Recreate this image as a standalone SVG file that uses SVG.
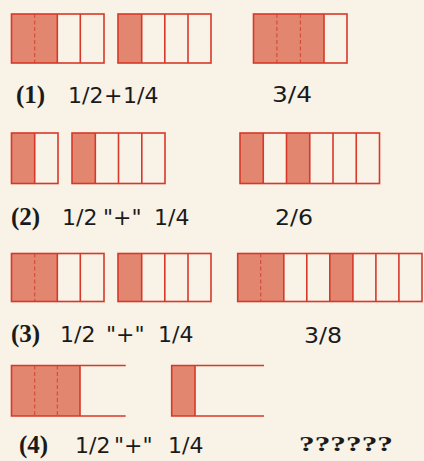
<svg xmlns="http://www.w3.org/2000/svg" width="424" height="461" viewBox="0 0 424 461">
<style>
.sh{fill:#e3866f;stroke:none}
.bx{fill:none;stroke:#d6382a;stroke-width:1.6}
.ln{stroke:#d6382a;stroke-width:1.6}
.ds{stroke:#d24a38;stroke-width:1.1;stroke-dasharray:4 2.5}
.lb{font-family:"Liberation Serif",serif;font-weight:bold;font-size:25px;fill:#1a1a1a}
.fr{font-family:"DejaVu Sans","Liberation Sans",sans-serif;font-size:22px;fill:#1a1a1a}
.q{font-family:"Liberation Serif",serif;font-weight:bold;font-size:22px;fill:#1a1a1a}
</style>
<rect width="424" height="461" fill="#f8f2e7"/>
<g id="row1">
<g id="r1a">
<rect class="sh" x="11.5" y="14" width="45.8" height="49"/>
<line class="ds" x1="34.7" y1="14" x2="34.7" y2="63"/>
<line class="ln" x1="57.3" y1="14" x2="57.3" y2="63"/>
<line class="ln" x1="80.3" y1="14" x2="80.3" y2="63"/>
<rect class="bx" x="11.5" y="14" width="92.5" height="49"/>
</g>
<g id="r1b">
<rect class="sh" x="118" y="14" width="23.7" height="49"/>
<line class="ln" x1="141.7" y1="14" x2="141.7" y2="63"/>
<line class="ln" x1="164.8" y1="14" x2="164.8" y2="63"/>
<line class="ln" x1="188" y1="14" x2="188" y2="63"/>
<rect class="bx" x="118" y="14" width="93" height="49"/>
</g>
<g id="r1c">
<rect class="sh" x="253.5" y="14" width="70.5" height="49"/>
<line class="ds" x1="276.9" y1="14" x2="276.9" y2="63"/>
<line class="ds" x1="300.4" y1="14" x2="300.4" y2="63"/>
<line class="ln" x1="324" y1="14" x2="324" y2="63"/>
<rect class="bx" x="253.5" y="14" width="93.5" height="49"/>
</g>
<text class="lb" x="16" y="103">(1)</text>
<text class="fr" y="103"><tspan x="68">1/2</tspan><tspan x="104">+</tspan><tspan x="123">1/4</tspan></text>
<text class="fr" x="272" y="102" textLength="40" lengthAdjust="spacingAndGlyphs">3/4</text>
</g>
<g id="row2">
<g id="r2a">
<rect class="sh" x="11.5" y="133" width="23.2" height="50.5"/>
<line class="ln" x1="34.7" y1="133" x2="34.7" y2="183.5"/>
<rect class="bx" x="11.5" y="133" width="46.5" height="50.5"/>
</g>
<g id="r2b">
<rect class="sh" x="72" y="133" width="23.3" height="50.5"/>
<line class="ln" x1="95.3" y1="133" x2="95.3" y2="183.5"/>
<line class="ln" x1="118.5" y1="133" x2="118.5" y2="183.5"/>
<line class="ln" x1="141.8" y1="133" x2="141.8" y2="183.5"/>
<rect class="bx" x="72" y="133" width="93" height="50.5"/>
</g>
<g id="r2c">
<rect class="sh" x="240" y="133" width="23.25" height="50.5"/>
<rect class="sh" x="286.5" y="133" width="23.25" height="50.5"/>
<line class="ln" x1="263.25" y1="133" x2="263.25" y2="183.5"/>
<line class="ln" x1="286.5" y1="133" x2="286.5" y2="183.5"/>
<line class="ln" x1="309.75" y1="133" x2="309.75" y2="183.5"/>
<line class="ln" x1="333" y1="133" x2="333" y2="183.5"/>
<line class="ln" x1="356.25" y1="133" x2="356.25" y2="183.5"/>
<rect class="bx" x="240" y="133" width="139.5" height="50.5"/>
</g>
<text class="lb" x="11" y="225">(2)</text>
<text class="fr" y="225"><tspan x="62">1/2</tspan><tspan x="103">"+"</tspan><tspan x="154">1/4</tspan></text>
<text class="fr" x="275" y="225" textLength="38" lengthAdjust="spacingAndGlyphs">2/6</text>
</g>
<g id="row3">
<g id="r3a">
<rect class="sh" x="11.5" y="253.5" width="45.8" height="48"/>
<line class="ds" x1="34.7" y1="253.5" x2="34.7" y2="301.5"/>
<line class="ln" x1="57.3" y1="253.5" x2="57.3" y2="301.5"/>
<line class="ln" x1="80.3" y1="253.5" x2="80.3" y2="301.5"/>
<rect class="bx" x="11.5" y="253.5" width="92.5" height="48"/>
</g>
<g id="r3b">
<rect class="sh" x="118" y="253.5" width="23.7" height="48"/>
<line class="ln" x1="141.7" y1="253.5" x2="141.7" y2="301.5"/>
<line class="ln" x1="164.8" y1="253.5" x2="164.8" y2="301.5"/>
<line class="ln" x1="188" y1="253.5" x2="188" y2="301.5"/>
<rect class="bx" x="118" y="253.5" width="93" height="48"/>
</g>
<g id="r3c">
<rect class="sh" x="237.7" y="253.5" width="46.1" height="48"/>
<rect class="sh" x="329.8" y="253.5" width="23.1" height="48"/>
<line class="ds" x1="260.7" y1="253.5" x2="260.7" y2="301.5"/>
<line class="ln" x1="283.8" y1="253.5" x2="283.8" y2="301.5"/>
<line class="ln" x1="306.8" y1="253.5" x2="306.8" y2="301.5"/>
<line class="ln" x1="329.8" y1="253.5" x2="329.8" y2="301.5"/>
<line class="ln" x1="352.9" y1="253.5" x2="352.9" y2="301.5"/>
<line class="ln" x1="375.9" y1="253.5" x2="375.9" y2="301.5"/>
<line class="ln" x1="398.9" y1="253.5" x2="398.9" y2="301.5"/>
<rect class="bx" x="237.7" y="253.5" width="184.3" height="48"/>
</g>
<text class="lb" x="11" y="342">(3)</text>
<text class="fr" y="342"><tspan x="60">1/2</tspan><tspan x="106">"+"</tspan><tspan x="158">1/4</tspan></text>
<text class="fr" x="304" y="343" textLength="38" lengthAdjust="spacingAndGlyphs">3/8</text>
</g>
<g id="row4">
<g id="r4a">
<rect class="sh" x="11.5" y="365.5" width="68.5" height="50.5"/>
<line class="ds" x1="34.7" y1="365.5" x2="34.7" y2="416"/>
<line class="ds" x1="57.3" y1="365.5" x2="57.3" y2="416"/>
<line class="ln" x1="80" y1="365.5" x2="80" y2="416"/>
<path class="bx" d="M125.7 365.5H11.5V416H125.7"/>
</g>
<g id="r4b">
<rect class="sh" x="171.7" y="365.5" width="23.3" height="50.5"/>
<line class="ln" x1="195" y1="365.5" x2="195" y2="416"/>
<path class="bx" d="M264 365.5H171.7V416H264"/>
</g>
<text class="lb" x="19" y="453">(4)</text>
<text class="fr" y="453"><tspan x="75">1/2</tspan><tspan x="114">"+"</tspan><tspan x="168">1/4</tspan></text>
<text class="q" x="299" y="451" textLength="94" lengthAdjust="spacingAndGlyphs">??????</text>
</g>
</svg>
